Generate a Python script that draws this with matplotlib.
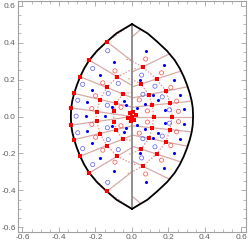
import matplotlib
matplotlib.use("Agg")
import matplotlib.pyplot as plt
from matplotlib.ticker import MultipleLocator

plt.rcParams.update({
    "font.family": ["Liberation Sans", "DejaVu Sans"],
    "font.size": 6,
    "axes.unicode_minus": False,
})

# lens outline
edge_y = [0.5, 0.45, 0.405, 0.355, 0.305, 0.26, 0.215, 0.17, 0.125, 0.085, 0.047, 0.0,
          -0.047, -0.085, -0.125, -0.17, -0.215, -0.26, -0.305, -0.355, -0.405, -0.45, -0.5]
edge_left_x = [0.0, -0.085, -0.138, -0.192, -0.234, -0.262, -0.284, -0.302, -0.317, -0.327, -0.333, -0.335,
               -0.333, -0.327, -0.317, -0.302, -0.284, -0.262, -0.234, -0.192, -0.138, -0.085, 0.0]
edge_right_x = [0.0, 0.085, 0.138, 0.192, 0.234, 0.262, 0.284, 0.302, 0.317, 0.327, 0.333, 0.335,
                0.333, 0.327, 0.317, 0.302, 0.284, 0.262, 0.234, 0.192, 0.138, 0.085, 0.0]

# spokes of the left half: edge node -> point on the x = 0 axis
left_spoke_x0 = [-0.138, -0.234, -0.284, -0.317, -0.335, -0.335, -0.317, -0.284, -0.234, -0.138]
left_spoke_y0 = [0.405, 0.305, 0.215, 0.125, 0.047, -0.047, -0.125, -0.215, -0.305, -0.405]
left_spoke_y1 = [0.30, 0.168, 0.102, 0.051, 0.0, 0.0, -0.051, -0.102, -0.168, -0.30]

# spokes of the right half: point on the axis -> right edge
right_spoke_y0 = [0.43, 0.24, 0.16, 0.10, 0.05, 0.0, -0.05, -0.10, -0.16, -0.24, -0.43]
right_spoke_x1 = [0.048, 0.206, 0.269, 0.305, 0.327, 0.335, 0.327, 0.305, 0.269, 0.206, 0.048]
right_spoke_y1 = [0.471, 0.339, 0.246, 0.161, 0.083, 0.0, -0.083, -0.161, -0.246, -0.339, -0.471]

# dotted level curves
ring_r1_x = [-0.03, 0.0, 0.059, 0.135, 0.186, 0.208, 0.22, 0.208, 0.186, 0.135, 0.059, 0.0, -0.03]
ring_r1_y = [0.31, 0.30, 0.268, 0.203, 0.137, 0.071, 0.0, -0.071, -0.137, -0.203, -0.268, -0.30, -0.31]
ring_r2_x = [-0.02, 0.0, 0.05, 0.092, 0.112, 0.118, 0.112, 0.092, 0.05, 0.0, -0.02]
ring_r2_y = [0.205, 0.20, 0.176, 0.118, 0.061, 0.0, -0.061, -0.118, -0.176, -0.20, -0.205]
ring_l1_x = [0.02, 0.0, -0.080, -0.138, -0.175, -0.193, -0.196, -0.193, -0.175, -0.138, -0.080, 0.0, 0.02]
ring_l1_y = [0.26, 0.255, 0.215, 0.157, 0.092, 0.025, 0.0, -0.025, -0.092, -0.157, -0.215, -0.255, -0.26]
ring_l0_x = [0.0, -0.05, -0.085, -0.098, -0.1, -0.098, -0.085, -0.05, 0.0]
ring_l0_y = [0.13, 0.122, 0.075, 0.03, 0.0, -0.03, -0.075, -0.122, -0.13]
chord_x = [0.0, -0.138, -0.234, -0.284, -0.317, -0.335, -0.335, -0.317, -0.284, -0.234, -0.138, 0.0]
chord_y = [0.5, 0.405, 0.305, 0.215, 0.125, 0.047, -0.047, -0.125, -0.215, -0.305, -0.405, -0.5]

# nodes
red_fill_x = [-0.138, -0.234, -0.284, -0.317, -0.335, -0.335, -0.317, -0.284, -0.234, -0.138,
              -0.080, -0.138, -0.175, -0.193, -0.080, -0.138, -0.175, -0.193,
              -0.05, -0.085, -0.098, -0.05, -0.085, -0.098,
              0.059, 0.135, 0.186, 0.208, 0.22, 0.059, 0.135, 0.186, 0.208,
              0.05, 0.092, 0.112, 0.118, 0.05, 0.092, 0.112,
              0.0, 0.022, -0.022, 0.008, -0.008, 0.012, -0.012]
red_fill_y = [0.405, 0.305, 0.215, 0.125, 0.047, -0.047, -0.125, -0.215, -0.305, -0.405,
              0.215, 0.157, 0.092, 0.025, -0.215, -0.157, -0.092, -0.025,
              0.122, 0.075, 0.03, -0.122, -0.075, -0.03,
              0.268, 0.203, 0.137, 0.071, 0.0, -0.268, -0.203, -0.137, -0.071,
              0.176, 0.118, 0.061, 0.0, -0.176, -0.118, -0.061,
              0.0, 0.008, -0.008, 0.022, -0.022, -0.018, 0.018]

red_open_x = [-0.093, -0.160, -0.199, -0.220, -0.093, -0.160, -0.199, -0.220, -0.06, -0.06,
              0.075, 0.162, 0.213, 0.245, 0.255, 0.075, 0.162, 0.213, 0.245, 0.255,
              0.085, 0.085, 0.04, 0.04]
red_open_y = [0.247, 0.182, 0.112, 0.043, -0.247, -0.182, -0.112, -0.043, 0.05, -0.05,
              0.311, 0.236, 0.157, 0.083, 0.028, -0.311, -0.236, -0.157, -0.083, -0.028,
              0.03, -0.03, 0.09, -0.09]

blue_fill_x = [-0.098, -0.175, -0.220, -0.245, -0.252, -0.098, -0.175, -0.220, -0.245,
               -0.148, -0.044, -0.044, -0.11, -0.11,
               0.077, 0.175, 0.231, 0.263, 0.286, 0.044, 0.117, 0.144, 0.181, 0.071,
               0.077, 0.175, 0.231, 0.263, 0.286, 0.044, 0.117, 0.144, 0.181, 0.071,
               0.03, 0.03, -0.03, -0.03]
blue_fill_y = [0.293, 0.222, 0.146, 0.079, 0.002, -0.293, -0.222, -0.146, -0.079,
               0.002, 0.085, -0.085, 0.05, -0.05,
               0.356, 0.277, 0.197, 0.119, 0.043, 0.197, 0.116, 0.088, 0.034, 0.067,
               -0.356, -0.277, -0.197, -0.119, -0.043, -0.197, -0.116, -0.088, -0.034, -0.067,
               0.045, -0.045, 0.06, -0.06]

blue_open_x = [-0.133, -0.215, -0.270, -0.297, -0.306, -0.133, -0.215, -0.270, -0.297,
               -0.075, -0.13, -0.135, -0.075, -0.13, -0.135,
               0.053, 0.126, 0.166, 0.205, 0.053, 0.126, 0.166, 0.205, 0.06, 0.06]
blue_open_y = [0.356, 0.260, 0.174, 0.088, 0.002, -0.356, -0.260, -0.174, -0.088,
               0.179, 0.125, 0.061, -0.179, -0.125, -0.061,
               0.224, 0.164, 0.106, 0.036, -0.224, -0.164, -0.106, -0.036, 0.12, -0.12]

fig = plt.figure(figsize=(2.49, 2.44), dpi=100)
ax = fig.add_axes([0.072, 0.049, 0.916, 0.947])

spoke_col = "#d7aaa6"
dot_col = "#e59696"
for xa, ya, yb in zip(left_spoke_x0, left_spoke_y0, left_spoke_y1):
    ax.plot([xa, 0], [ya, yb], color=spoke_col, lw=0.9, zorder=1)
for ya, xb, yb in zip(right_spoke_y0, right_spoke_x1, right_spoke_y1):
    ax.plot([0, xb], [ya, yb], color=spoke_col, lw=0.9, zorder=1)
for cx, cy in [(ring_r1_x, ring_r1_y), (ring_r2_x, ring_r2_y), (ring_l1_x, ring_l1_y),
               (ring_l0_x, ring_l0_y), (chord_x, chord_y)]:
    ax.plot(cx, cy, color=dot_col, lw=0.9, ls=(0, (1.2, 1.3)), zorder=1)

ax.plot(edge_left_x, edge_y, color="black", lw=1.3, zorder=3)
ax.plot(edge_right_x, edge_y, color="black", lw=1.3, zorder=3)
ax.plot([0, 0], [edge_y[0], edge_y[-1]], color="#888888", lw=1.3, zorder=2)

ax.scatter(blue_open_x, blue_open_y, s=9, facecolors="none", edgecolors="#5a5aff", linewidths=0.5, zorder=4)
ax.scatter(red_open_x, red_open_y, s=9, facecolors="none", edgecolors="#ff4a4a", linewidths=0.5, zorder=4)
ax.scatter(blue_fill_x, blue_fill_y, s=5, color="#0000ff", linewidths=0, zorder=5)
ax.scatter(red_fill_x, red_fill_y, s=5, color="#ff0000", marker="s", linewidths=0, zorder=5)

ax.set_xlim(-0.625, 0.625)
ax.set_ylim(-0.625, 0.625)
for side in ax.spines.values():
    side.set_color("#a0a0a0")
    side.set_linewidth(0.8)
ax.xaxis.set_major_locator(MultipleLocator(0.2))
ax.yaxis.set_major_locator(MultipleLocator(0.2))
ax.xaxis.set_minor_locator(MultipleLocator(0.05))
ax.yaxis.set_minor_locator(MultipleLocator(0.05))
ax.xaxis.set_major_formatter(plt.FuncFormatter(lambda v, p: "%.1f" % v))
ax.yaxis.set_major_formatter(plt.FuncFormatter(lambda v, p: "%.1f" % v))
ax.tick_params(which="both", direction="in", top=True, right=True, color="#a0a0a0",
               labelcolor="#606060", labelsize=6, pad=1.5)
ax.tick_params(which="major", length=3.5, width=0.6)
ax.tick_params(which="minor", length=2, width=0.5)

fig.savefig("out.png", dpi=100)
